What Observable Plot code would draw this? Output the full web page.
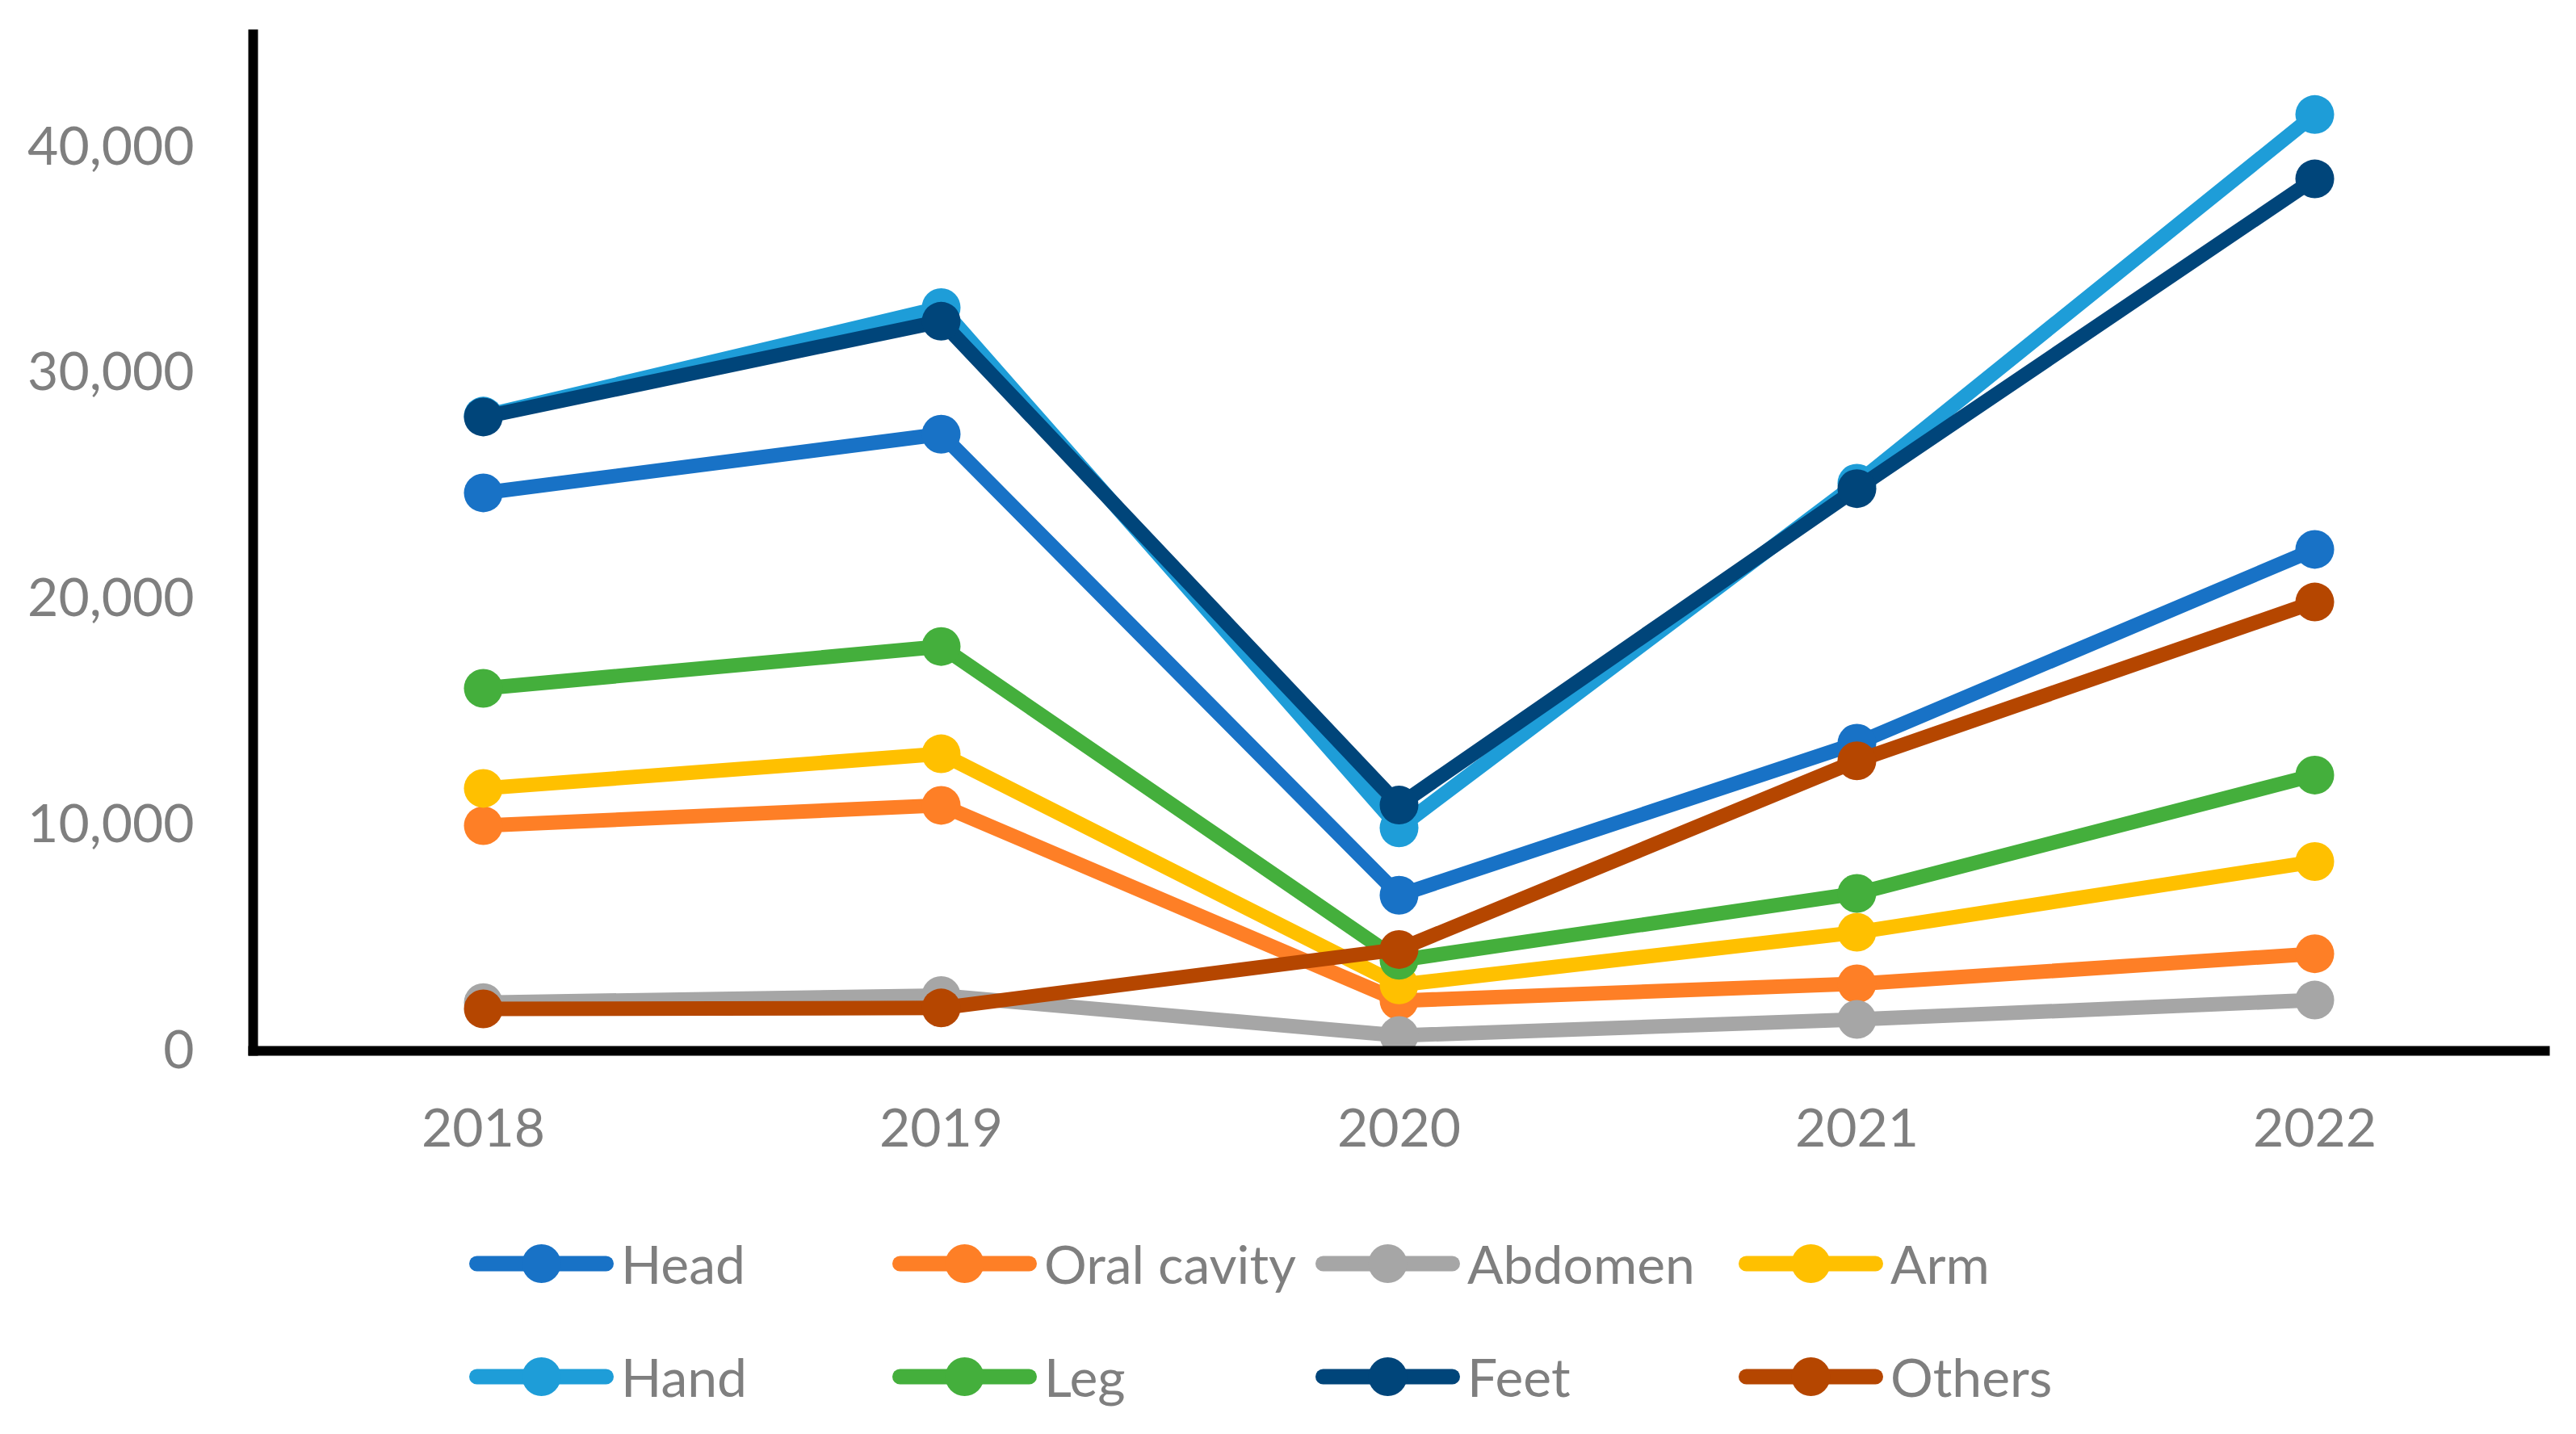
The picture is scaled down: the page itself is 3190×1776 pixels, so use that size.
<!DOCTYPE html>
<html><head><meta charset="utf-8">
<script src="https://cdn.jsdelivr.net/npm/d3@7"></script>
<script src="https://cdn.jsdelivr.net/npm/@observablehq/plot@0.6"></script>
<style>
body{margin:0;background:#fff;width:3190px;height:1776px;overflow:hidden;font-family:Lato, sans-serif;}
#legend{display:grid;grid-template-columns:repeat(4,524px);grid-auto-rows:140px;margin-left:581px;padding-top:25px;}
.item{display:flex;align-items:center;font-size:66px;color:#7f7f7f;white-space:nowrap;line-height:1;}
.item svg{flex:none;margin-right:9px;}
</style></head><body><div id="chart"></div><div id="legend"></div>
<script>
const years = ["2018", "2019", "2020", "2021", "2022"];
const seriesNames = ["Head", "Oral cavity", "Abdomen", "Arm", "Hand", "Leg", "Feet", "Others"];
const head       = [24700, 27300, 6890, 13620, 22200];
const oralCavity = [9970, 10870, 2220, 2970, 4300];
const abdomen    = [2140, 2450, 680, 1390, 2250];
const arm        = [11620, 13150, 2920, 5250, 8380];
const hand       = [28100, 32900, 9870, 25130, 41450];
const leg        = [16050, 17900, 4010, 6970, 12210];
const feet       = [28060, 32300, 10880, 24890, 38600];
const others     = [1860, 1900, 4490, 12840, 19870];
const colors = ["#1872C6", "#FE7F26", "#A6A6A6", "#FFC000", "#1E9DD8", "#44AF3C", "#00457A", "#B54600"];
const yTicks = [0, 10000, 20000, 30000, 40000];

const seriesValues = [head, oralCavity, abdomen, arm, hand, leg, feet, others];
const rows = seriesNames.flatMap((s, i) => years.map((y, j) => ({series: s, year: y, value: seriesValues[i][j]})));

const W = 3190, H = 1470;
const marks = [];
seriesNames.forEach(s => {
  const d = rows.filter(r => r.series === s);
  marks.push(Plot.line(d, {x: "year", y: "value", stroke: "series", strokeWidth: 18, strokeLinejoin: "round", strokeLinecap: "round"}));
  marks.push(Plot.dot(d, {x: "year", y: "value", fill: "series", r: 24, stroke: "none"}));
});

const chart = Plot.plot({
  width: W, height: H,
  marginLeft: 313, marginRight: 39, marginTop: 42, marginBottom: H - 1301,
  style: {fontFamily: "Lato, sans-serif", fontSize: "66px", color: "#7f7f7f", background: "#fff", overflow: "visible"},
  x: {type: "point", domain: years, padding: 0.5},
  y: {domain: [0, 45000]},
  color: {domain: seriesNames, range: colors},
  marks: [
    Plot.axisY({ticks: yTicks, tickFormat: d3.format(","), tickSize: 0, tickPadding: 73, label: null, fontSize: 66}),
    Plot.axisX({tickSize: 0, tickPadding: 72, label: null, fontSize: 66}),
    ...marks,
    Plot.frame({anchor: "left", stroke: "black", strokeWidth: 12}),
    Plot.frame({anchor: "bottom", stroke: "black", strokeWidth: 12})
  ]
});
document.getElementById("chart").appendChild(chart);

const legend = document.getElementById("legend");
const order = ["Head", "Oral cavity", "Abdomen", "Arm", "Hand", "Leg", "Feet", "Others"];
order.forEach(name => {
  const c = colors[seriesNames.indexOf(name)];
  const item = document.createElement("div");
  item.className = "item";
  item.innerHTML = `<svg width="179" height="50" viewBox="0 0 179 50"><line x1="9.5" y1="25" x2="169.5" y2="25" stroke="${c}" stroke-width="19" stroke-linecap="round"/><circle cx="89.5" cy="25" r="24" fill="${c}"/></svg><span>${name}</span>`;
  legend.appendChild(item);
});
</script></body></html>
